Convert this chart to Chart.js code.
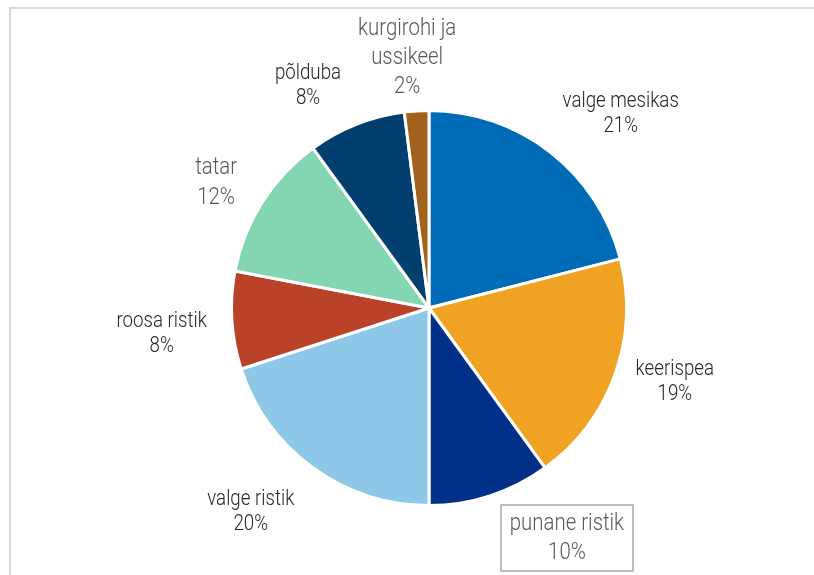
<!DOCTYPE html>
<html>
<head>
<meta charset="utf-8">
<script src="https://cdn.jsdelivr.net/npm/chart.js@4.4.0/dist/chart.umd.min.js"></script>
<style>
  html, body { margin: 0; padding: 0; background: #fff; }
  #wrap { position: relative; width: 814px; height: 575px; overflow: hidden; }
  #frame { position: absolute; left: 9px; top: 7px; width: 900px; height: 700px;
           border-top: 2px solid #d9d9d9; border-left: 2px solid #d9d9d9; }
  #mycanvas { position: absolute; left: 0; top: 0; }
</style>
</head>
<body>
<div id="wrap">
  <div id="frame"></div>
  <canvas id="mycanvas" width="814" height="575"></canvas>
</div>
<script>
// andmed
var categories = ['valge mesikas', 'keerispea', 'punane ristik', 'valge ristik',
                  'roosa ristik', 'tatar', 'põlduba', 'kurgirohi ja ussikeel'];
var shares = [21, 19, 10, 20, 8, 12, 8, 2];
var labelLines = [
  ['valge mesikas', '21%'],
  ['keerispea', '19%'],
  ['punane ristik', '10%'],
  ['valge ristik', '20%'],
  ['roosa ristik', '8%'],
  ['tatar', '12%'],
  ['põlduba', '8%'],
  ['kurgirohi ja', 'ussikeel', '2%']
];
var colors = ['#006BB6', '#F0A323', '#003087', '#8DC8E8',
              '#BA4229', '#84D5B1', '#003F6E', '#A0621C'];

// sildi paigutus: nurga nihe (kraadid) ja kaugus raadiuse kordsena
var labelNudge = [6.9, -3, -12.9, 5.2, -2, -2, -7, -1.4];
var labelDist = [1.38, 1.30, 1.36, 1.37, 1.36, 1.25, 1.28, 1.27];
var labelColor = ['#262626', '#262626', '#595959', '#262626', '#262626', '#595959', '#262626', '#595959'];
var labelSize = [22, 22, 24, 22, 22, 24, 22, 24];
var labelGap = [25, 25, 29, 25, 25, 30, 25, 29];
var labelBox = [false, false, true, false, false, false, false, false];

var squeeze = 0.85; // kitsendatud kirja jäljendus

var pieLabels = {
  id: 'pieLabels',
  afterDatasetsDraw: function(chart) {
    var ctx = chart.ctx;
    var meta = chart.getDatasetMeta(0);
    ctx.save();
    ctx.textAlign = 'center';
    ctx.textBaseline = 'middle';
    meta.data.forEach(function(arc, i) {
      var p = arc.getProps(['x', 'y', 'startAngle', 'endAngle', 'outerRadius'], true);
      var a = (p.startAngle + p.endAngle) / 2 + labelNudge[i] * Math.PI / 180;
      var cx = p.x + Math.cos(a) * p.outerRadius * labelDist[i];
      var cy = p.y + Math.sin(a) * p.outerRadius * labelDist[i];
      var lines = labelLines[i];
      var lh = labelGap[i];
      var top = cy - (lines.length - 1) * lh / 2;
      ctx.font = '300 ' + labelSize[i] + 'px Roboto';
      if (labelBox[i]) {
        var w = 0;
        lines.forEach(function(t) { w = Math.max(w, ctx.measureText(t).width * squeeze); });
        ctx.strokeStyle = '#bfbfbf';
        ctx.lineWidth = 2;
        ctx.strokeRect(Math.round(cx - w / 2 - 9), Math.round(cy - lines.length * lh / 2 - 4),
                       Math.round(w + 18), Math.round(lines.length * lh + 8));
      }
      ctx.fillStyle = labelColor[i];
      lines.forEach(function(t, k) {
        ctx.save();
        ctx.translate(cx, top + k * lh);
        ctx.scale(squeeze, 1);
        ctx.fillText(t, 0, 0);
        ctx.restore();
      });
    });
    ctx.restore();
  }
};

var ctx = document.getElementById('mycanvas');
var pieChart = new Chart(ctx, {
  type: 'pie',
  data: {
    labels: categories,
    datasets: [{
      data: shares,
      backgroundColor: colors,
      borderColor: '#ffffff',
      borderWidth: 3
    }]
  },
  options: {
    responsive: false,
    animation: false,
    layout: { padding: { top: 109, bottom: 68, left: 230, right: 186 } },
    plugins: {
      legend: { display: false },
      tooltip: { enabled: false }
    }
  },
  plugins: [pieLabels]
});
</script>
</body>
</html>
